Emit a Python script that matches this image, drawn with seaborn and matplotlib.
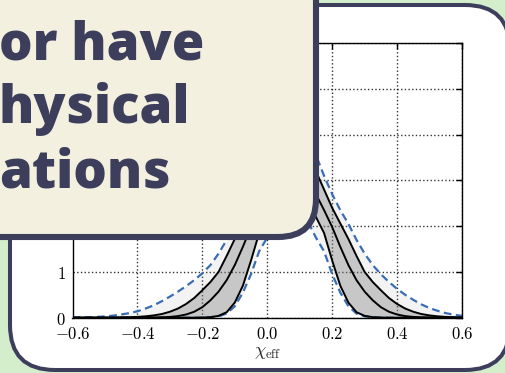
import numpy as np
import matplotlib
matplotlib.use("Agg")
import matplotlib.pyplot as plt
from matplotlib.patches import FancyBboxPatch
import seaborn as sns

# ---------------- data ----------------
chi = np.linspace(-0.6, 0.6, 49)  # evaluation grid of chi_eff

median = [0, 0, 0, 0, 0, 0, 0, 0, 0.001, 0.002, 0.004, 0.008, 0.017, 0.035, 0.07, 0.13,
          0.23, 0.38, 0.57, 0.82, 1.15, 1.55, 1.98, 2.35, 2.70, 3.00, 3.22,
          3.30,
          3.22, 3.00, 2.70, 2.35, 1.98, 1.55, 1.15, 0.82, 0.57, 0.38, 0.23, 0.13, 0.07,
          0.035, 0.017, 0.008, 0.004, 0.002, 0.001, 0, 0]

upper = [0, 0, 0, 0.001, 0.002, 0.003, 0.006, 0.010, 0.018, 0.03, 0.05, 0.08, 0.13, 0.20,
         0.30, 0.43, 0.60, 0.78, 1.00, 1.35, 1.72, 2.06, 2.40, 2.80, 3.20, 3.50, 3.75,
         3.85,
         3.75, 3.50, 3.20, 2.80, 2.40, 2.06, 1.72, 1.35, 1.00, 0.78, 0.60, 0.43, 0.30,
         0.20, 0.13, 0.08, 0.05, 0.03, 0.018, 0.010, 0.006]

lower = [0, 0, 0, 0, 0, 0, 0, 0, 0, 0, 0, 0, 0, 0, 0, 0.001, 0.004, 0.012, 0.04, 0.12,
         0.33, 0.70, 1.25, 1.85, 2.20, 2.50, 2.70,
         2.75,
         2.70, 2.50, 2.20, 1.85, 1.25, 0.70, 0.33, 0.12, 0.04, 0.012, 0.004, 0.001, 0,
         0, 0, 0, 0, 0, 0, 0, 0]

blue_upper = [0.003, 0.006, 0.010, 0.017, 0.028, 0.045, 0.07, 0.10, 0.14, 0.20, 0.27, 0.36,
              0.46, 0.57, 0.69, 0.82, 0.97, 1.15, 1.40, 1.70, 2.05, 2.35, 2.70, 3.10, 3.55,
              3.95, 4.20,
              4.30,
              4.20, 3.95, 3.55, 3.10, 2.70, 2.35, 2.05, 1.70, 1.40, 1.15, 0.95, 0.78, 0.63,
              0.50, 0.39, 0.29, 0.21, 0.15, 0.10, 0.065, 0.04]

blue_lower = [0, 0, 0, 0, 0, 0, 0, 0, 0, 0, 0, 0, 0, 0, 0, 0, 0.003, 0.01, 0.03, 0.09,
              0.25, 0.55, 0.95, 1.45, 1.75, 2.10, 2.35,
              2.40,
              2.35, 2.10, 1.75, 1.45, 0.95, 0.55, 0.25, 0.09, 0.03, 0.01, 0.003, 0, 0,
              0, 0, 0, 0, 0, 0, 0, 0]

xticks = [-0.6, -0.4, -0.2, 0.0, 0.2, 0.4, 0.6]
yticks = [0, 1, 2, 3, 4, 5, 6]
xlabel = r"$\chi_{\rm eff}$"
headline = ["or have", "hysical", "ations"]

# ---------------- style ----------------
GREEN = "#d4edca"
NAVY = "#3c3e5c"
BEIGE = "#f3f0df"
BLUE = "#3a6db5"

sns.set_style("white")
plt.rcParams["mathtext.fontset"] = "cm"
plt.rcParams["font.family"] = ["DejaVu Sans"]

W, H = 506, 373
fig = plt.figure(figsize=(W / 100, H / 100), dpi=100)
fig.patch.set_facecolor(GREEN)

# background card
bg = fig.add_axes([0, 0, 1, 1], zorder=0)
bg.set_xlim(0, W)
bg.set_ylim(H, 0)
bg.axis("off")
bg.add_patch(FancyBboxPatch((10, 5), 500, 365,
                            boxstyle="round,pad=0,rounding_size=45",
                            fc="white", ec=NAVY, lw=2.9))

# chart
x0, x1, ytop, ybot = 72.5, 462, 43, 317.7
ax = fig.add_axes([x0 / W, (H - ybot) / H, (x1 - x0) / W, (ybot - ytop) / H], zorder=1)
ax.set_facecolor("white")

ax.fill_between(chi, blue_lower, blue_upper, color="0.55", alpha=0.10, lw=0)
ax.fill_between(chi, lower, upper, color="0.5", alpha=0.38, lw=0)
sns.lineplot(x=chi, y=blue_upper, ax=ax, color=BLUE, lw=1.6, linestyle=(0, (3.5, 2)))
sns.lineplot(x=chi, y=blue_lower, ax=ax, color=BLUE, lw=1.6, linestyle=(0, (3.5, 2)))
sns.lineplot(x=chi, y=upper, ax=ax, color="black", lw=1.4)
sns.lineplot(x=chi, y=lower, ax=ax, color="black", lw=1.4)
sns.lineplot(x=chi, y=median, ax=ax, color="black", lw=1.4)

ax.set_xlim(-0.6, 0.6)
ax.set_ylim(0, 6)
ax.set_xticks(xticks)
ax.set_yticks(yticks)
ax.set_xticklabels([r"$%.1f$" % v for v in xticks], fontsize=12)
ax.set_yticklabels([r"$%d$" % v for v in yticks], fontsize=12)
ax.tick_params(direction="in", length=4, width=1, top=True, right=True, pad=5,
               colors="black")
ax.grid(True, linestyle=":", color="black", lw=1.0, alpha=0.8)
for s in ax.spines.values():
    s.set_color("black")
    s.set_linewidth(1.0)
ax.set_xlabel(xlabel, fontsize=13, labelpad=0)
ax.set_ylabel("")

# overlay text box
ov = fig.add_axes([0, 0, 1, 1], zorder=2)
ov.set_xlim(0, W)
ov.set_ylim(H, 0)
ov.axis("off")
ov.patch.set_alpha(0)
ov.add_patch(FancyBboxPatch((-40, -40), 356, 277,
                            boxstyle="round,pad=0,rounding_size=38",
                            fc=BEIGE, ec=NAVY, lw=4.4))
for i, line in enumerate(headline):
    ov.text(-1, 59 + 64 * i, line, family="Open Sans", weight=800, fontsize=38,
            color=NAVY, va="baseline", ha="left")

fig.savefig("out.png", dpi=100, facecolor=GREEN)
